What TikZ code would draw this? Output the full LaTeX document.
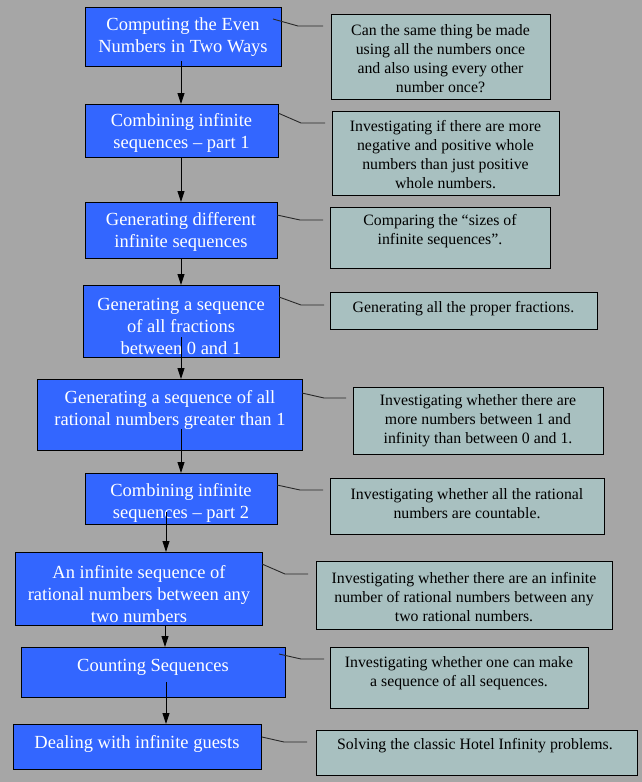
\documentclass[tikz,border=0pt]{standalone}
\usepackage{fontspec}
\setmainfont{Liberation Serif}
\usetikzlibrary{arrows.meta,calc}
\definecolor{bgc}{RGB}{166,166,166}
\definecolor{bluec}{RGB}{51,102,255}
\definecolor{tealc}{RGB}{168,192,192}
\definecolor{linkc}{RGB}{40,40,40}
\tikzset{
  lbox/.style={draw=black,fill=bluec,line width=0.9pt,inner sep=0pt,outer sep=0pt},
  rbox/.style={draw=black,fill=tealc,line width=0.9pt,inner sep=0pt,outer sep=0pt},
  ltext/.style={text=white,align=center,inner sep=0pt,yshift=-2pt,font=\fontsize{18.5}{22}\selectfont},
  rtext/.style={text=black,align=center,inner sep=0pt,font=\fontsize{15.8}{19}\selectfont},
  arr/.style={draw=black,line width=0.9pt,-{Triangle[length=11pt,width=7pt]}},
  link/.style={draw=linkc,line width=0.9pt}
}
\begin{document}
\begin{tikzpicture}[x=1pt,y=-1pt]
\fill[bgc] (0,0) rectangle (642,782);
\useasboundingbox (0,0) rectangle (642,782);

% left boxes
\node[lbox,minimum width=196pt,minimum height=59pt] (L1) at (183,36.5) {};
\node[lbox,minimum width=193pt,minimum height=53pt] (L2) at (181.5,130.5) {};
\node[lbox,minimum width=192pt,minimum height=56pt] (L3) at (181,230) {};
\node[lbox,minimum width=196pt,minimum height=72pt] (L4) at (181,321) {};
\node[lbox,minimum width=265pt,minimum height=71pt] (L5) at (169.5,414.5) {};
\node[lbox,minimum width=192pt,minimum height=51pt] (L6) at (181,498.5) {};
\node[lbox,minimum width=247pt,minimum height=73pt] (L7) at (138.5,588.5) {};
\node[lbox,minimum width=264pt,minimum height=50pt] (L8) at (153,672) {};
\node[lbox,minimum width=248pt,minimum height=45pt] (L9) at (137,746.5) {};

\node[ltext] (T1) at (183,35) {Computing the Even\\Numbers in Two Ways};
\node[ltext] (T2) at (181.5,131) {Combining infinite\\sequences -- part 1};
\node[ltext] (T3) at (181,230) {Generating different\\infinite sequences};
\node[ltext] (T4) at (181,324) {Generating a sequence\\of all fractions\\between 0 and 1};
\node[ltext] (T5) at (170,408) {Generating a sequence of all\\rational numbers greater than 1};
\node[ltext] (T6) at (181,501) {Combining infinite\\sequences -- part 2};
\node[ltext] (T7) at (139,592) {An infinite sequence of\\rational numbers between any\\two numbers};
\node[ltext] (T8) at (153,665) {Counting Sequences};
\node[ltext] (T9) at (137,742) {Dealing with infinite guests};

% right boxes
\node[rbox,minimum width=219pt,minimum height=85pt] (R1) at (440.5,56.5) {};
\node[rbox,minimum width=227pt,minimum height=84pt] (R2) at (445.5,153) {};
\node[rbox,minimum width=220pt,minimum height=61pt] (R3) at (440,237.5) {};
\node[rbox,minimum width=267pt,minimum height=37pt] (R4) at (463.5,310.5) {};
\node[rbox,minimum width=250pt,minimum height=67pt] (R5) at (478,420.5) {};
\node[rbox,minimum width=274pt,minimum height=56pt] (R6) at (467,506) {};
\node[rbox,minimum width=296pt,minimum height=68pt] (R7) at (464,595) {};
\node[rbox,minimum width=258pt,minimum height=61pt] (R8) at (459,677.5) {};
\node[rbox,minimum width=321pt,minimum height=45pt] (R9) at (476.5,752.5) {};

\node[rtext] (S1) at (440.5,59) {Can the same thing be made\\using all the numbers once\\and also using every other\\number once?};
\node[rtext] (S2) at (445.5,155) {Investigating if there are more\\negative and positive whole\\numbers than just positive\\whole numbers.};
\node[rtext] (S3) at (440,231) {Comparing the ``sizes of\\infinite sequences''.};
\node[rtext] (S4) at (463.5,309) {Generating all the proper fractions.};
\node[rtext] (S5) at (478,421) {Investigating whether there are\\more numbers between 1 and\\infinity than between 0 and 1.};
\node[rtext] (S6) at (467,503.5) {Investigating whether all the rational\\numbers are countable.};
\node[rtext] (S7) at (464,597) {Investigating whether there are an infinite\\number of rational numbers between any\\two rational numbers.};
\node[rtext] (S8) at (459,673) {Investigating whether one can make\\a sequence of all sequences.};
\node[rtext] (S9) at (475,746) {Solving the classic Hotel Infinity problems.};

% arrows
\draw[arr] ($(L1.south)+(-2,-5)$) coordinate (a1) -- (a1 |- L2.north);
\draw[arr] ($(L2.south)+(-0.5,0)$) coordinate (a2) -- (a2 |- L3.north);
\draw[arr] ($(L3.south)+(0,0)$) coordinate (a3) -- (a3 |- L4.north);
\draw[arr] ($(L4.south)+(0,-20)$) coordinate (a4) -- (a4 |- L5.north);
\draw[arr] ($(L5.south)+(11.5,-21)$) coordinate (a5) -- (a5 |- L6.north);
\draw[arr] ($(L6.south)+(-15,-12)$) coordinate (a6) -- (a6 |- L7.north);
\draw[arr] ($(L7.south)+(26.5,0)$) coordinate (a7) -- (a7 |- L8.north);
\draw[arr] ($(L8.south)+(13,-15)$) coordinate (a8) -- (a8 |- L9.north);

% links
\coordinate (e1) at (323,26);
\coordinate (e2) at (325,123);
\coordinate (e3) at (323,220);
\coordinate (e4) at (324,305);
\coordinate (e5) at (346,398);
\coordinate (e6) at (323,490);
\coordinate (e7) at (308,574);
\coordinate (e8) at (324,659);
\coordinate (e9) at (307,742);
\draw[link] ($(L1.north east)+(-8,12)$) -- ++(25,7) -- (e1);
\draw[link] ($(L2.north east)+(0,9)$) -- ++(23,10) -- (e2);
\draw[link] ($(L3.north east)+(0,13)$) -- ++(23,5) -- (e3);
\draw[link] ($(L4.north east)+(0,12)$) -- ++(22,8) -- (e4);
\draw[link] ($(L5.north east)+(0,14)$) -- ++(22,5) -- (e5);
\draw[link] ($(L6.north east)+(0,12)$) -- ++(23,5) -- (e6);
\draw[link] ($(L7.north east)+(0,12)$) -- ++(23,10) -- (e7);
\draw[link] ($(L8.north east)+(-6,7)$) -- ++(22,5) -- (e8);
\draw[link] ($(L9.north east)+(1,13)$) -- ++(22,5) -- (e9);
\end{tikzpicture}
\end{document}
